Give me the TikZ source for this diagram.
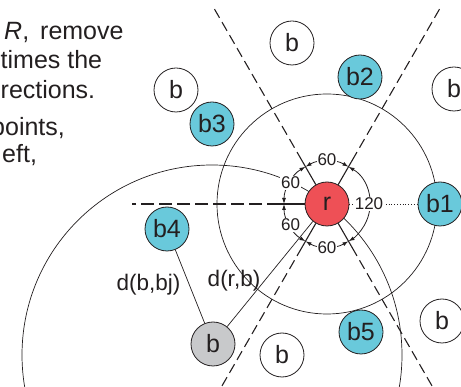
\documentclass[tikz,border=0pt]{standalone}
\usepackage{fontspec}
\setmainfont{Liberation Sans}
\usetikzlibrary{arrows.meta,calc}
\definecolor{rred}{HTML}{EE5056}
\definecolor{bcyan}{HTML}{69C9DB}
\definecolor{bgray}{HTML}{C8C9CB}
\definecolor{ink}{HTML}{231F20}
\pgfdeclarelayer{bg}
\pgfsetlayers{bg,main}
\begin{document}
\begin{tikzpicture}[x=1pt,y=1pt,
  ball/.style={circle,draw=ink,line width=0.8pt,minimum size=44pt,inner sep=0pt,text=ink,font=\fontsize{25}{25}\selectfont},
  wball/.style={ball,fill=white},
  cball/.style={ball,fill=bcyan},
  rball/.style={ball,fill=rred},
  gball/.style={ball,fill=bgray},
  thin line/.style={draw=ink,line width=0.7pt},
  sepsolid/.style={draw=ink,line width=1.1pt},
  sepdash/.style={draw=ink,line width=1.1pt,dash pattern=on 10pt off 5pt},
  sepdashh/.style={draw=ink,line width=1.1pt,dash pattern=on 13pt off 5pt},
  angarc/.style={draw=ink,line width=0.8pt,{Latex[length=6pt,width=4pt]}-{Latex[length=6pt,width=4pt]}},
  anglab/.style={fill=white,inner sep=1pt,text=ink,font=\fontsize{17}{17}\selectfont},
  para/.style={anchor=base west,inner sep=0pt,text=ink,font=\fontsize{25}{25}\selectfont},
  dlab/.style={inner sep=0pt,text=ink,font=\fontsize{22.5}{22.5}\selectfont}
]
\useasboundingbox (0,0) rectangle (461,-387);
\clip (0,0) rectangle (461,-387);

% text fragments
\node[para] (t1) at (4,-40) {\textit{R},\hspace{11pt}remove};
\node[para] (t2) at (0.5,-68.5) {times the};
\node[para] (t3) at (0.5,-99) {rections.};
\node[para] (t4) at (-9,-136) {points,};
\node[para] (t5) at (2,-163) {eft,};

% nodes
\node[rball] (r) at (327,-204) {r};
\node[cball] (b1) at (440,-204) {b1};
\node[cball] (b2) at (360,-77) {b2};
\node[cball] (b3) at (212,-124) {b3};
\node[cball] (b4) at (167,-229) {b4};
\node[cball] (b5) at (361,-332) {b5};
\node[gball] (bg) at (213,-344) {b};
\node[wball] (w1) at (292,-43) {b};
\node[wball] (w2) at (176,-90) {b};
\node[wball] (w3) at (454,-89) {b};
\node[wball] (w4) at (282,-355) {b};
\node[wball] (w5) at (442,-321) {b};

\coordinate (bigc) at (212,-355);

\begin{pgfonlayer}{bg}
  % circles
  \draw[thin line] (r) circle[radius=110];
  \draw[thin line] (bigc) circle[radius=190];
  % sector boundaries
  \foreach \a/\L in {120/225,60/225,240/215,300/215}{
    \draw[sepsolid] (r) -- ($(r)+(\a:60)$);
    \draw[sepdash] ($(r)+(\a:65)$) -- ($(r)+(\a:\L)$);
  }
  \draw[sepsolid] (r) -- ($(r)+(180:60)$);
  \draw[sepdashh] ($(r)+(180:65)$) -- ($(r)+(180:195)$);
  % connectors
  \draw[thin line] (b4) -- (bg);
  \draw[thin line] (r) -- (bg);
  \draw[draw=ink,line width=0.7pt,dash pattern=on 1pt off 1.8pt] (r) -- (b1);
  % angle arcs
  \draw[angarc] ($(r)+(60:43)$) arc[start angle=60,end angle=120,radius=43];
  \draw[angarc] ($(r)+(120:43)$) arc[start angle=120,end angle=180,radius=43];
  \draw[angarc] ($(r)+(180:43)$) arc[start angle=180,end angle=240,radius=43];
  \draw[angarc] ($(r)+(240:43)$) arc[start angle=240,end angle=300,radius=43];
  \draw[angarc] ($(r)+(60:43)$) arc[start angle=60,end angle=-60,radius=43];
\end{pgfonlayer}

% angle labels
\node[anglab] (a1) at ($(r)+(90:44)$) {60};
\node[anglab] (a2) at ($(r)+(150:42)$) {60};
\node[anglab] (a3) at ($(r)+(210:42)$) {60};
\node[anglab] (a4) at ($(r)+(270:44)$) {60};
\node[anglab] (a5) at ($(r)+(0:42)$) {120};

% distance labels
\node[dlab] (dbb) at (148.5,-285) {d(b,bj)};
\node[dlab] (drb) at (234,-281) {d(r,b)};
\end{tikzpicture}
\end{document}
